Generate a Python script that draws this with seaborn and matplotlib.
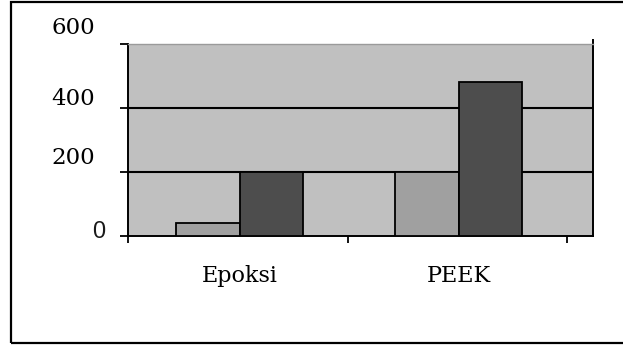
import matplotlib
matplotlib.use("Agg")
import matplotlib.pyplot as plt
import matplotlib.transforms as mtransforms
from matplotlib.patches import Rectangle
import pandas as pd
import seaborn as sns

# Chart data
categories = ["Epoksi", "PEEK"]
series_names = ["Seri 1", "Seri 2"]
series_1 = [40, 200]
series_2 = [200, 480]
y_ticks = [0, 200, 400, 600]
y_tick_labels = ["0", "200", "400", "600"]

df = pd.DataFrame({
    "kategori": categories * 2,
    "seri": [series_names[0]] * len(categories) + [series_names[1]] * len(categories),
    "nilai": series_1 + series_2,
})

W, H = 623, 347
X_LEFT, X_RIGHT = -0.513, 1.613
fig = plt.figure(figsize=(W / 100, H / 100), dpi=100)
ax = fig.add_axes([127.7 / W, 1 - 235.7 / H, (592.7 - 127.7) / W, (235.7 - 44) / H])

sns.barplot(
    data=df, x="kategori", y="nilai", hue="seri",
    palette=["#a0a0a0", "#4d4d4d"], width=0.58, gap=0,
    edgecolor="black", linewidth=1.3, legend=False, ax=ax, zorder=3,
)

ax.set_facecolor("#c0c0c0")
ax.set_xlim(X_LEFT, X_RIGHT)
ax.set_ylim(0, 600)
ax.set_xlabel("")
ax.set_ylabel("")

# horizontal gridlines behind the bars
for v in y_ticks[1:-1]:
    ax.axhline(v, color="black", lw=1.5, zorder=1)

# spines
for s in ["left", "bottom", "right"]:
    ax.spines[s].set_color("black")
    ax.spines[s].set_linewidth(1.4)
ax.spines["top"].set_color("#9a9a9a")
ax.spines["top"].set_linewidth(1.0)
ax.spines["right"].set_bounds(0, 612)

# y ticks with hand-placed labels
ax.set_yticks(y_ticks)
ax.set_yticklabels([])
ax.tick_params(axis="y", direction="out", length=6, width=1.3, color="black")
label_offsets_px = {"0": -4, "200": -14, "400": -8.7, "600": -15.7}
px_per_unit = 465 / (X_RIGHT - X_LEFT)
for v, lab in zip(y_ticks, y_tick_labels):
    off = mtransforms.offset_copy(ax.transData, fig=fig, x=0, y=-label_offsets_px[lab], units="dots")
    if lab == "0":
        ax.text(X_LEFT - 22.7 / px_per_unit, v, lab, transform=off, ha="right", va="center",
                fontsize=17, fontfamily=["Liberation Sans", "DejaVu Sans"], color="#1a1a1a",
                clip_on=False)
    else:
        ax.text(X_LEFT - 32.7 / px_per_unit, v, lab, transform=off, ha="right", va="center",
                fontsize=16.5, fontfamily=["DejaVu Serif"], color="black", clip_on=False)

# x ticks at category boundaries, category names as minor tick labels
ax.set_xticks([X_LEFT, 0.495, 1.494])
ax.set_xticklabels([])
ax.tick_params(axis="x", which="major", direction="out", length=5.3, width=1.3, color="black")
ax.set_xticks([0, 1], minor=True)
ax.set_xticklabels(categories, minor=True, fontsize=16, fontfamily=["DejaVu Serif"])
ax.tick_params(axis="x", which="minor", length=0, pad=21)

# outer frame around the chart
fig.add_artist(Rectangle((10.5 / W, 4 / H), 1.0, (H - 5.5) / H, transform=fig.transFigure,
                         fill=False, edgecolor="black", linewidth=1.6))

fig.savefig("out.png", dpi=100)
